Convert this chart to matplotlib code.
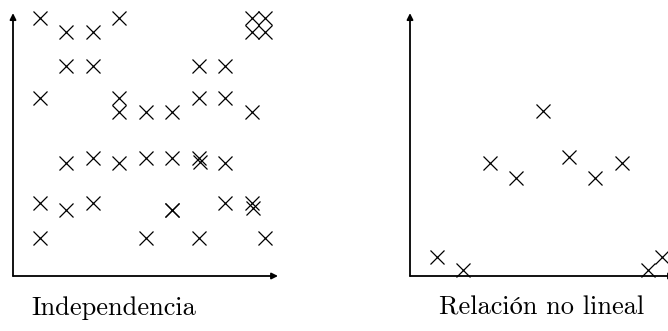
import matplotlib
matplotlib.use("Agg")
import matplotlib.pyplot as plt

# scatter data, independent variables
indep_x = [1, 2, 3, 4, 9, 9.5, 9, 9.5,
           2, 3, 7, 8,
           1, 4, 4, 5, 6, 7, 8, 9,
           2, 3, 4, 5, 6, 7, 7.05, 8,
           1, 2, 3, 6, 6, 8, 9, 9.05,
           1, 5, 7, 9.5]
indep_y = [9.74, 9.21, 9.21, 9.74, 9.74, 9.74, 9.21, 9.21,
           7.92, 7.92, 7.92, 7.92,
           6.72, 6.72, 6.19, 6.19, 6.19, 6.72, 6.72, 6.19,
           4.26, 4.45, 4.26, 4.45, 4.45, 4.45, 4.3, 4.26,
           2.75, 2.49, 2.75, 2.49, 2.49, 2.75, 2.75, 2.55,
           1.43, 1.43, 1.43, 1.43]

# scatter data, non-linear relation
nonlin_x = [1, 2, 3, 4, 5, 6, 7, 8, 9, 9.5]
nonlin_y = [0.72, 0.23, 4.26, 3.7, 6.23, 4.49, 3.7, 4.26, 0.23, 0.72]

titles = ["Independencia", "Relación no lineal"]

W, H = 668, 331
fig = plt.figure(figsize=(W / 100, H / 100), dpi=100)

unit = 26.5
panels = [
    (13, indep_x, indep_y, titles[0], 114),
    (410, nonlin_x, nonlin_y, titles[1], 542),
]

for x0, xs, ys, title, tx in panels:
    ax = fig.add_axes([x0 / W, (H - 276) / H, 10 * unit / W, 10 * unit / H])
    ax.set_xlim(0, 10)
    ax.set_ylim(0, 10)
    ax.axis("off")

    # axes drawn as arrows
    arrow = dict(arrowstyle="-|>", lw=1.3, color="black",
                 mutation_scale=9, shrinkA=0, shrinkB=0)
    ax.annotate("", xy=(10, 0), xytext=(0, 0), arrowprops=arrow,
                annotation_clip=False)
    ax.annotate("", xy=(0, 9.92), xytext=(0, 0), arrowprops=arrow,
                annotation_clip=False)

    ax.plot(xs, ys, linestyle="none", marker="x", markersize=10,
            markeredgewidth=0.9, color="black", clip_on=False)

    fig.text(tx / W, (H - 308) / H, title, ha="center", va="center",
             fontsize=19, family=["cmr10", "STIXGeneral"])

fig.savefig("out.png", dpi=100)
